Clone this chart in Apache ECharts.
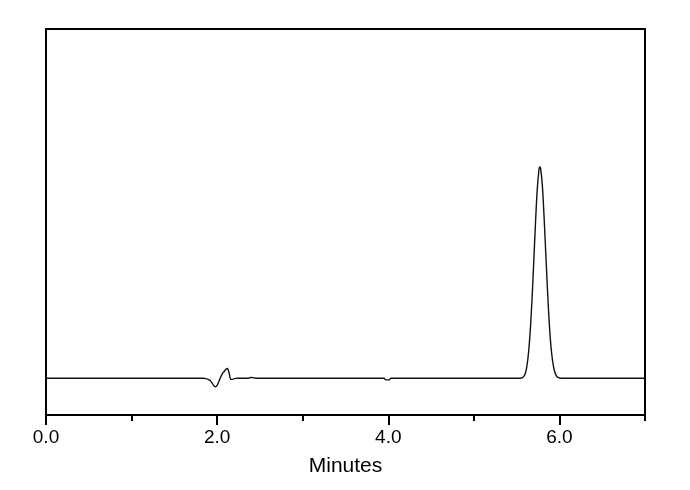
<!DOCTYPE html>
<html>
<head>
<meta charset="utf-8">
<script src="https://cdn.jsdelivr.net/npm/echarts@6/dist/echarts.min.js"></script>
<style>html,body{margin:0;padding:0;background:#fff}#c{width:690px;height:490px}</style>
</head>
<body>
<div id="c"></div>
<script>
// Retention time (minutes)
var times = [0.00, 1.00, 1.80, 1.84, 1.87, 1.90, 1.92, 1.94, 1.96, 1.98, 2.00, 2.02, 2.04, 2.06, 2.08, 2.10, 2.12, 2.14, 2.16, 2.18, 2.20, 2.24, 2.30, 2.36, 2.39, 2.42, 2.45,
  3.00, 3.95, 3.97, 3.99, 4.01, 4.03, 4.05, 5.00, 5.50, 5.56, 5.58, 5.60, 5.62, 5.64, 5.66, 5.68, 5.70, 5.72, 5.74, 5.76, 5.77, 5.78, 5.80, 5.82,
  5.84, 5.86, 5.88, 5.90, 5.92, 5.94, 5.96, 5.98, 6.00, 6.04, 6.10, 6.50, 7.00];
// Detector response (arbitrary units, baseline = 0)
var signal = [0, 0, 0, 0, -0.1, -0.4, -0.7, -1.3, -2.1, -2.4, -2.0, -0.9, 0.3, 1.3, 1.9, 2.5, 2.8, 1.5, -0.3, -0.3, -0.1, 0, 0, 0, 0.25, 0.2, 0,
  0, 0, -0.45, -0.45, -0.45, 0, 0, 0, 0, 0.1, 0.4, 1.3, 3.5, 7.6, 14.0, 22.8, 33.4, 44.3, 53.8, 59.5, 60.5, 60.1, 55.3, 46.5,
  36.0, 25.5, 16.3, 9.4, 5.0, 2.3, 0.9, 0.3, 0.1, 0, 0, 0, 0];
var majorTicks = [0, 2, 4, 6];
var minorTicks = [1, 3, 5, 7];

var data = times.map(function (t, i) { return [t, signal[i]]; });
var font = '"Liberation Sans", Arial, sans-serif';
var chart = echarts.init(document.getElementById('c'));
chart.setOption({
  animation: false,
  grid: { left: 46, right: 45, top: 29, bottom: 75, show: true, borderColor: '#000', borderWidth: 2, backgroundColor: 'transparent' },
  xAxis: [{
    type: 'value', min: 0, max: 7,
    axisLine: { show: true, onZero: false, lineStyle: { color: '#000', width: 2 } },
    axisTick: { show: true, customValues: majorTicks, length: 10, lineStyle: { color: '#000', width: 2 } },
    axisLabel: { customValues: majorTicks, margin: 13, fontSize: 19, color: '#000', fontFamily: font,
      formatter: function (v) { return v.toFixed(1); } },
    splitLine: { show: false },
    name: 'Minutes', nameLocation: 'middle', nameGap: 41,
    nameTextStyle: { fontSize: 21, color: '#000', fontFamily: font }
  }, {
    type: 'value', min: 0, max: 7, position: 'bottom',
    axisLine: { show: false, onZero: false },
    axisTick: { show: true, customValues: minorTicks, length: 6, lineStyle: { color: '#000', width: 2 } },
    axisLabel: { show: false },
    splitLine: { show: false }
  }],
  yAxis: {
    type: 'value', min: -10.5, max: 100,
    axisLine: { show: true, onZero: false, lineStyle: { color: '#000', width: 2 } },
    axisTick: { show: false }, axisLabel: { show: false }, splitLine: { show: false }
  },
  series: [{
    type: 'line', data: data, xAxisIndex: 0, showSymbol: false, smooth: 0.3,
    lineStyle: { color: '#111', width: 1.4 }
  }]
});
</script>
</body>
</html>
